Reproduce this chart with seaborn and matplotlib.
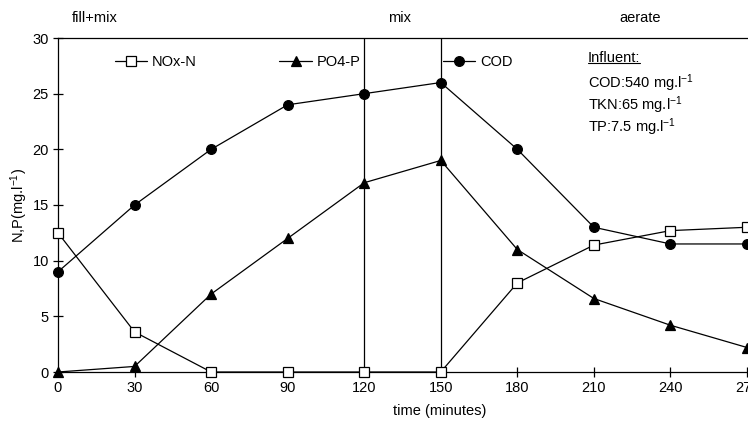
import matplotlib
matplotlib.use("Agg")
import matplotlib.pyplot as plt
import seaborn as sns
import pandas as pd
from matplotlib.lines import Line2D

time = [0, 30, 60, 90, 120, 150, 180, 210, 240, 270]
nox_n = [12.5, 3.6, 0, 0, 0, 0, 8, 11.4, 12.7, 13.0]
po4_p = [0, 0.5, 7, 12, 17, 19, 11, 6.6, 4.2, 2.2]
cod = [9, 15, 20, 24, 25, 26, 20, 13, 11.5, 11.5]
phase_bounds = [120, 150]
phase_labels = ["fill+mix", "mix", "aerate"]
influent = ["COD:540 mg.l$^{-1}$", "TKN:65 mg.l$^{-1}$", "TP:7.5 mg.l$^{-1}$"]

sns.set_theme(style="white")
plt.rcParams['font.family'] = ['Liberation Sans', 'DejaVu Sans']
plt.rcParams['mathtext.default'] = 'regular'
plt.rcParams['text.color'] = 'black'
plt.rcParams['axes.labelcolor'] = 'black'
plt.rcParams['xtick.color'] = 'black'
plt.rcParams['ytick.color'] = 'black'
FS = 10.5

df = pd.DataFrame({"time": time, "NOx-N": nox_n, "PO4-P": po4_p, "COD": cod})

fig = plt.figure(figsize=(7.48, 4.26), dpi=100)
ax = fig.add_axes([58/748, 54/426, 689/748, 334/426])

styles = {
    "NOx-N": dict(marker="s", markerfacecolor="white", markeredgecolor="black", markersize=6.5),
    "PO4-P": dict(marker="^", markerfacecolor="black", markeredgecolor="black", markersize=7),
    "COD": dict(marker="o", markerfacecolor="black", markeredgecolor="black", markersize=7),
}
for name in ["NOx-N", "PO4-P", "COD"]:
    sns.lineplot(data=df, x="time", y=name, ax=ax, color="black", linewidth=0.9,
                 label=name, markeredgewidth=0.9, clip_on=False, zorder=3, **styles[name])

for b in phase_bounds:
    ax.axvline(b, color="black", linewidth=0.9, zorder=2)

ax.set_xlim(0, 270)
ax.set_ylim(0, 30)
ax.set_xticks(time)
ax.set_yticks([0, 5, 10, 15, 20, 25, 30])
ax.tick_params(axis="both", direction="inout", length=7, width=0.9, colors="black",
               labelsize=FS, pad=3, left=True, bottom=True)
for s in ["left", "bottom", "top"]:
    ax.spines[s].set_visible(True)
    ax.spines[s].set_color("black")
    ax.spines[s].set_linewidth(0.9)
ax.spines["right"].set_visible(False)

ax.set_xlabel("time (minutes)", fontsize=FS, labelpad=6, color="black")
ax.xaxis.set_label_coords((440 - 58) / 689, -0.095)
ax.set_ylabel("N,P(mg.l$^{-1}$)", fontsize=FS, labelpad=2, color="black")

for lx, lab in zip([95, 400, 640], phase_labels):
    fig.text(lx/748, 1 - 18/426, lab, ha="center", va="center", fontsize=FS, color="black")

leg = ax.legend(loc="center left", bbox_to_anchor=(115/748, 1 - 62/426),
                bbox_transform=fig.transFigure, ncol=3, frameon=False, fontsize=FS,
                handlelength=2.2, handletextpad=0.35, columnspacing=5.65,
                borderpad=0, borderaxespad=0, labelcolor="black")

t = fig.text(588/748, 1 - 58/426, "Influent:", ha="left", va="center", fontsize=FS, color="black")
for i, s in enumerate(influent):
    fig.text(588/748, 1 - (83 + 22*i)/426, s, ha="left", va="center", fontsize=FS, color="black")

fig.canvas.draw()
bb = t.get_window_extent().transformed(fig.transFigure.inverted())
fig.add_artist(Line2D([bb.x0, bb.x1], [bb.y0 + 0.004, bb.y0 + 0.004],
                      transform=fig.transFigure, color="black", linewidth=0.8))

fig.savefig("out.png", dpi=100)
